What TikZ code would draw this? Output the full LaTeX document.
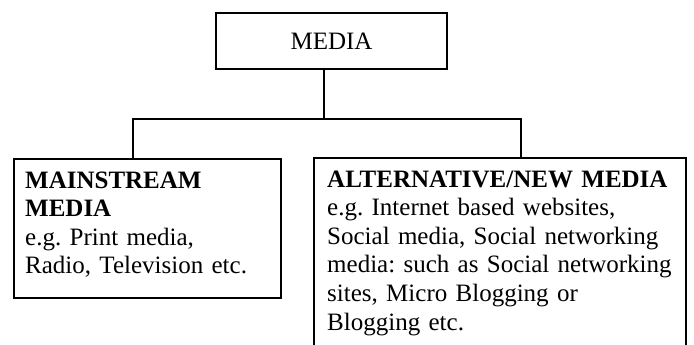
\documentclass[tikz,border=0pt]{standalone}
\usepackage{fontspec}
\setmainfont{Liberation Serif}
\begin{document}
\frenchspacing
\begin{tikzpicture}[x=1pt,y=-1pt,
  box/.style={draw,line width=2.2pt,rectangle,inner sep=0pt},
  link/.style={line width=2.2pt},
  txtfont/.style={font=\fontsize{25}{28.6}\selectfont\frenchspacing},
  txt/.style={txtfont,inner sep=0pt,align=left,anchor=base west}]
\useasboundingbox (0,0) rectangle (694,345);
\clip (0,0) rectangle (694,345);
\node[box,txtfont,minimum width=231pt,minimum height=56pt] (media) at (331.5,41) {MEDIA};
\node[box,anchor=north west,minimum width=267pt,minimum height=139pt] (main) at (13,158) {};
\node[box,anchor=north west,minimum width=372pt,minimum height=220pt] (alt) at (313,157) {};
\node[txt,text width=255pt] (maintxt) at (25,188) {\textbf{MAINSTREAM}\\\textbf{MEDIA}\\e.g. Print media,\\Radio, Television etc.};
\node[txt,text width=365pt] (alttxt) at (327,187) {\textbf{ALTERNATIVE/NEW MEDIA}\\e.g. Internet based websites,\\Social media, Social networking\\media: such as Social networking\\sites, Micro Blogging or\\Blogging etc.};
\draw[link] ([xshift=-7.5pt]media.south) -- ++(0,49) coordinate (j);
\draw[link] ([xshift=-14.5pt]main.north) |- (j) -| ([xshift=21pt]alt.north);
\end{tikzpicture}
\end{document}
